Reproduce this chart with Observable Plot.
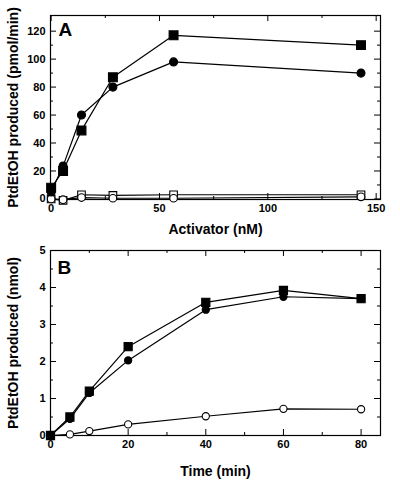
<!DOCTYPE html>
<html>
<head>
<meta charset="utf-8">
<script src="https://cdn.jsdelivr.net/npm/d3@7"></script>
<script src="https://cdn.jsdelivr.net/npm/@observablehq/plot@0.6"></script>
<style>
  html, body { margin: 0; padding: 0; background: #fff; }
  #chart { width: 400px; height: 486px; }
  #chart svg { display: block; }
</style>
</head>
<body>
<div id="chart"></div>
<script>
// ---- Panel A data ----
const activatorNM = [0, 5.5, 14, 28.5, 56.5, 143];
const aFilledSquare = [8, 20, 49, 87, 117, 110];
const aFilledCircle = [5, 23.5, 60, 80, 98, 90];
const aOpenSquare = [0, -1, 3, 2.5, 3, 3];
const aOpenCircle = [0, -0.5, 1, 0.5, 0.5, 1.5];
const aXTicks = [0, 50, 100, 150];
const aXMinor = [25, 75, 125];
const aYTicks = [0, 20, 40, 60, 80, 100, 120];
const aYMinor = [10, 30, 50, 70, 90, 110];

// ---- Panel B data ----
const timeMin = [0, 5, 10, 20, 40, 60, 80];
const bFilledSquare = [0, 0.5, 1.2, 2.4, 3.6, 3.92, 3.7];
const bFilledCircle = [0, 0.45, 1.15, 2.03, 3.4, 3.75, 3.7];
const bOpenCircle = [0, 0.03, 0.12, 0.3, 0.52, 0.72, 0.71];
const bXTicks = [0, 20, 40, 60, 80];
const bXMinor = [10, 30, 50, 70];
const bYTicks = [0, 1, 2, 3, 4, 5];
const bYMinor = [0.5, 1.5, 2.5, 3.5, 4.5];

const FONT = "'Liberation Sans', Arial, Helvetica, sans-serif";

function rows(xs, ys) { return xs.map((x, i) => ({x, y: ys[i]})); }

function panel(cfg) {
  const W = 400;
  const fw = W - cfg.ml - cfg.mr;
  const fh = cfg.h - cfg.mt - cfg.mb;
  const major = 6, minor = 3;
  const fmt = d3.format("~g");
  const marks = [
    Plot.frame({stroke: "black", strokeWidth: 1.2}),
    // bottom & top ticks
    Plot.tickX(cfg.xTicks, {x: d => d, insetTop: fh - major, stroke: "black"}),
    Plot.tickX(cfg.xTicks, {x: d => d, insetBottom: fh - major, stroke: "black"}),
    Plot.tickX(cfg.xMinor, {x: d => d, insetTop: fh - minor, stroke: "black"}),
    Plot.tickX(cfg.xMinor, {x: d => d, insetBottom: fh - minor, stroke: "black"}),
    // left & right ticks
    Plot.tickY(cfg.yTicks, {y: d => d, insetRight: fw - major, stroke: "black"}),
    Plot.tickY(cfg.yTicks, {y: d => d, insetLeft: fw - major, stroke: "black"}),
    Plot.tickY(cfg.yMinor, {y: d => d, insetRight: fw - minor, stroke: "black"}),
    Plot.tickY(cfg.yMinor, {y: d => d, insetLeft: fw - minor, stroke: "black"}),
    Plot.axisX({ticks: cfg.xTicks, tickFormat: fmt, tickSize: 0, tickPadding: 5, fontSize: 11, fontWeight: "bold", label: null}),
    Plot.axisY({ticks: cfg.yTicks, tickFormat: fmt, tickSize: 0, tickPadding: 5, fontSize: 11, fontWeight: "bold", label: null}),
    Plot.text([cfg.xLabel], {frameAnchor: "bottom", dy: cfg.xLabelDy, lineAnchor: "middle", textAnchor: "middle", fontSize: 14, fontWeight: "bold", fill: "black"}),
    Plot.text([cfg.yLabel], {frameAnchor: "left", dx: -37, rotate: -90, lineAnchor: "middle", textAnchor: "middle", fontSize: 14, fontWeight: "bold", fill: "black"}),
    Plot.text([cfg.panelLabel], {frameAnchor: "top-left", dx: cfg.pdx, dy: cfg.pdy, lineAnchor: "top", textAnchor: "start", fontSize: 19, fontWeight: "bold", fill: "black"})
  ];
  for (const s of cfg.series) {
    marks.push(Plot.line(rows(cfg.xs, s.ys), {x: "x", y: "y", stroke: "black", strokeWidth: 1.2}));
  }
  for (const s of cfg.series) {
    marks.push(Plot.dot(rows(cfg.xs, s.ys), {
      x: "x", y: "y", symbol: s.symbol, r: s.r,
      fill: s.filled ? "black" : "white", stroke: "black", strokeWidth: 1.1
    }));
  }
  return Plot.plot({
    width: W, height: cfg.h,
    marginLeft: cfg.ml, marginRight: cfg.mr, marginTop: cfg.mt, marginBottom: cfg.mb,
    style: {fontFamily: FONT, color: "black", background: "white", overflow: "visible"},
    x: {domain: cfg.xDomain, label: null},
    y: {domain: cfg.yDomain, label: null},
    marks
  });
}

const chart = document.getElementById("chart");

chart.appendChild(panel({
  h: 243, ml: 50, mr: 20, mt: 15, mb: 44,
  xDomain: [-0.3, 152], yDomain: [-0.4, 131.2],
  xTicks: aXTicks, xMinor: aXMinor, yTicks: aYTicks, yMinor: aYMinor,
  xLabel: "Activator (nM)", yLabel: "PtdEtOH produced (pmol/min)",
  xLabelDy: 30, panelLabel: "A", pdx: 8, pdy: 7,
  xs: activatorNM,
  series: [
    {ys: aOpenSquare, symbol: "square", r: 4.3, filled: false},
    {ys: aOpenCircle, symbol: "circle", r: 3.8, filled: false},
    {ys: aFilledCircle, symbol: "circle", r: 4, filled: true},
    {ys: aFilledSquare, symbol: "square", r: 5, filled: true}
  ]
}));

chart.appendChild(panel({
  h: 243, ml: 50, mr: 20, mt: 7, mb: 51,
  xDomain: [0, 85], yDomain: [0, 5],
  xTicks: bXTicks, xMinor: bXMinor, yTicks: bYTicks, yMinor: bYMinor,
  xLabel: "Time (min)", yLabel: "PtdEtOH produced (nmol)",
  xLabelDy: 36, panelLabel: "B", pdx: 7, pdy: 10,
  xs: timeMin,
  series: [
    {ys: bOpenCircle, symbol: "circle", r: 3.6, filled: false},
    {ys: bFilledCircle, symbol: "circle", r: 3.6, filled: true},
    {ys: bFilledSquare, symbol: "square", r: 4.6, filled: true}
  ]
}));
</script>
</body>
</html>
